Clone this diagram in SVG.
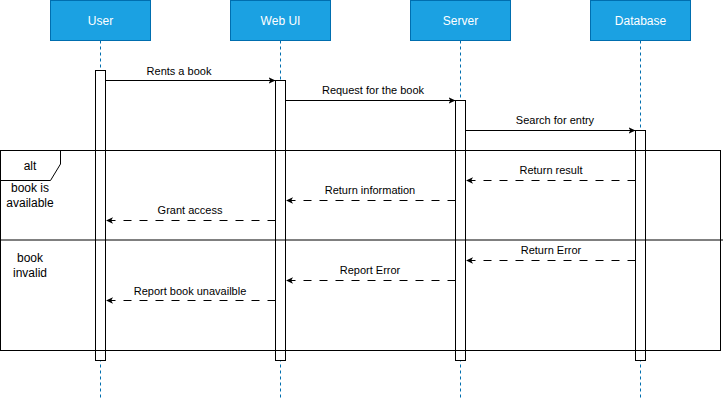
<svg xmlns="http://www.w3.org/2000/svg" width="725" height="401" viewBox="0 0 725 401">
<style>
.hdr{fill:#1ba1e2;stroke:#006EAF;stroke-width:1}
.hdrt{font-family:"Liberation Sans",Arial,sans-serif;font-size:12px;fill:#ffffff;text-anchor:middle}
.life{stroke:#006EAF;stroke-width:1;stroke-dasharray:3 3;fill:none}
.act{fill:#ffffff;stroke:#000000;stroke-width:1}
.msg{stroke:#000000;stroke-width:1;fill:none;marker-end:url(#arr)}
.ret{stroke:#000000;stroke-width:1;fill:none;stroke-dasharray:8 8;marker-end:url(#arr)}
.lbl{font-family:"Liberation Sans",Arial,sans-serif;font-size:11px;fill:#000000;text-anchor:middle}
.frm{font-family:"Liberation Sans",Arial,sans-serif;font-size:12px;fill:#000000;text-anchor:middle}
.frame{fill:none;stroke:#000000;stroke-width:1}
</style>
<defs>
<marker id="arr" markerUnits="userSpaceOnUse" markerWidth="8" markerHeight="8" viewBox="0 0 8 8" refX="7" refY="4" orient="auto">
<path d="M0,0.8 L7,4 L0,7.2 L1.8,4 Z" fill="#000000" stroke="none"/>
</marker>
</defs>
<rect width="725" height="401" fill="#ffffff"/>

<g id="user">
<rect class="hdr" x="50.5" y="0.5" width="100" height="40"/>
<text class="hdrt" x="100.5" y="24.5">User</text>
<line class="life" x1="100.5" y1="40.5" x2="100.5" y2="400"/>
<rect class="act" x="95.5" y="70.5" width="10" height="290"/>
</g>
<g id="webui">
<rect class="hdr" x="230.5" y="0.5" width="100" height="40"/>
<text class="hdrt" x="280.5" y="24.5">Web UI</text>
<line class="life" x1="280.5" y1="40.5" x2="280.5" y2="400"/>
<rect class="act" x="275.5" y="80.5" width="10" height="280"/>
</g>
<g id="server">
<rect class="hdr" x="410.5" y="0.5" width="100" height="40"/>
<text class="hdrt" x="460.5" y="24.5">Server</text>
<line class="life" x1="460.5" y1="40.5" x2="460.5" y2="400"/>
<rect class="act" x="455.5" y="100.5" width="10" height="260"/>
</g>
<g id="database">
<rect class="hdr" x="590.5" y="0.5" width="100" height="40"/>
<text class="hdrt" x="640.5" y="24.5">Database</text>
<line class="life" x1="640.5" y1="40.5" x2="640.5" y2="400"/>
<rect class="act" x="635.5" y="130.5" width="10" height="230"/>
</g>

<g id="alt-frame">
<rect class="frame" x="0.5" y="150.5" width="720" height="200"/>
<path class="frame" d="M0.5,180.5 H50.5 L60.5,164 V150.5"/>
<text class="frm" x="30" y="169.5">alt</text>
<line x1="0" y1="240" x2="723" y2="240" stroke="#000000" stroke-width="1"/>
<text class="frm" x="30" y="192">book is</text>
<text class="frm" x="30" y="206.5">available</text>
<text class="frm" x="30" y="262">book</text>
<text class="frm" x="30" y="276.5">invalid</text>
</g>

<g id="connectors">
<line class="msg" x1="105.5" y1="80.5" x2="275.5" y2="80.5"/>
<text class="lbl" x="179" y="75">Rents a book</text>
<line class="msg" x1="285.5" y1="100.5" x2="455.5" y2="100.5"/>
<text class="lbl" x="373" y="94">Request for the book</text>
<line class="msg" x1="465.5" y1="130.5" x2="635.5" y2="130.5"/>
<text class="lbl" x="555" y="124">Search for entry</text>
<line class="ret" x1="635.5" y1="180.5" x2="466" y2="180.5"/>
<text class="lbl" x="551" y="174">Return result</text>
<line class="ret" x1="455.5" y1="200.5" x2="286" y2="200.5"/>
<text class="lbl" x="370" y="194">Return information</text>
<line class="ret" x1="275.5" y1="220.5" x2="106" y2="220.5"/>
<text class="lbl" x="190" y="214">Grant access</text>
<line class="ret" x1="635.5" y1="260.5" x2="466" y2="260.5"/>
<text class="lbl" x="551" y="254">Return Error</text>
<line class="ret" x1="455.5" y1="280.5" x2="286" y2="280.5"/>
<text class="lbl" x="370" y="274">Report Error</text>
<line class="ret" x1="275.5" y1="300.5" x2="106" y2="300.5"/>
<text class="lbl" x="190" y="294.5">Report book unavailble</text>
</g>
</svg>
